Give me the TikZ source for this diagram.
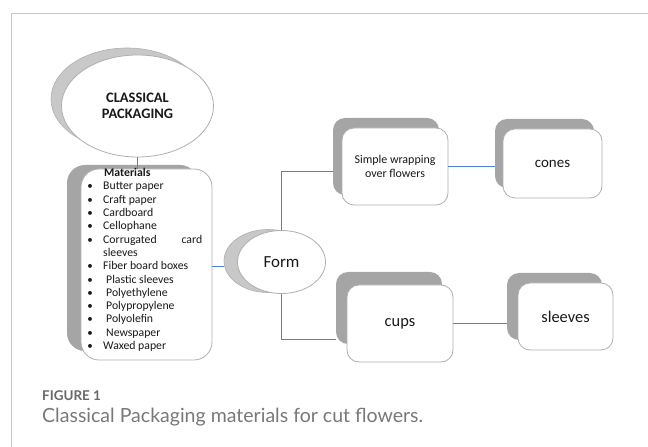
\documentclass[tikz,border=0pt]{standalone}
\usepackage{fontspec}
\setmainfont{Carlito}
\newfontfamily\capfont{Lato}
\usetikzlibrary{shapes.geometric,calc}
\definecolor{linkblue}{RGB}{80,130,220}
\definecolor{shade}{RGB}{165,165,165}
\definecolor{eshade}{RGB}{200,200,200}
\definecolor{edge}{RGB}{175,175,175}
\definecolor{capgray}{RGB}{105,105,105}
\definecolor{caplight}{RGB}{120,120,120}
\definecolor{framegray}{RGB}{200,200,200}
\definecolor{ink}{RGB}{25,25,25}
\tikzset{
  card/.style={draw=edge, fill=white, rounded corners=12bp, line width=0.8bp, inner sep=0pt, align=center, text=ink},
  cardsh/.style={fill=shade, draw=none, rounded corners=12bp, inner sep=0pt},
  oval/.style={ellipse, draw=edge, fill=white, inner sep=0pt, line width=0.8bp, align=center, text=ink},
  ovalsh/.style={ellipse, fill=eshade, draw=edge, line width=0.6bp, inner sep=0pt},
  link/.style={draw=linkblue, line width=1.1bp},
  item/.style={anchor=base west, inner sep=0pt, text=ink, font=\fontsize{11.8}{13}\selectfont},
  bul/.style={anchor=base, inner sep=0pt, text=ink, font=\fontsize{11}{13}\selectfont},
}
\begin{document}
\begin{tikzpicture}[x=1bp,y=-1bp]
\useasboundingbox (0,0) rectangle (648,447);
\draw[framegray, line width=1bp] (11.5,447) -- (11.5,13.5) -- (648,13.5);

% classical packaging ellipse
\node[ovalsh, minimum width=152bp, minimum height=102bp] (cpsh) at (127,99) {};
\node[oval, minimum width=152bp, minimum height=102bp, font=\bfseries\fontsize{14.5}{16.5}\selectfont] (cp) at (137.5,106) {CLASSICAL\\PACKAGING};

% materials box
\node[cardsh, rounded corners=18bp, minimum width=131bp, minimum height=186bp] (matsh) at (132.5,258) {};
\node[card, rounded corners=18bp, minimum width=131bp, minimum height=191bp] (mat) at (146.5,264.5) {};

\node[item, font=\bfseries\fontsize{11.8}{13}\selectfont] (mhead) at (104,177) {Materials};
\foreach \i/\y in {1/190,2/203.3,3/216.6,4/229.9,5/243.2,7/269.8,8/283.1,9/296.4,10/309.7,11/323,12/336.3,13/349.6}
  \node[bul] (b\i) at (90,\y) {•};
\node[item] (m1) at (103,190) {Butter paper};
\node[item] (m2) at (103,203.3) {Craft paper};
\node[item] (m3) at (103,216.6) {Cardboard};
\node[item] (m4) at (103,229.9) {Cellophane};
\node[item] (m5) at (103,243.2) {\makebox[99bp][l]{Corrugated\hfill card}};
\node[item] (m6) at (103,256.5) {sleeves};
\node[item] (m7) at (103,269.8) {Fiber board boxes};
\node[item] (m8) at (106,283.1) {Plastic sleeves};
\node[item] (m9) at (106,296.4) {Polyethylene};
\node[item] (m10) at (106,309.7) {Polypropylene};
\node[item] (m11) at (106,323) {Polyolefin};
\node[item] (m12) at (106,336.3) {Newspaper};
\node[item] (m13) at (103,349.6) {Waxed paper};

% form ellipse
\node[ovalsh, minimum width=88bp, minimum height=63bp] (formsh) at (268,261) {};
\node[oval, minimum width=88bp, minimum height=63bp, font=\fontsize{17}{19}\selectfont] (form) at (281.5,262) {Form};

% boxes
\node[cardsh, minimum width=106bp, minimum height=77bp] (simplesh) at (386,156.5) {};
\node[card, minimum width=106bp, minimum height=77bp, font=\fontsize{12}{14}\selectfont] (simple) at (395,166.5) {Simple wrapping\\over flowers};

\node[cardsh, minimum width=99bp, minimum height=69bp] (conessh) at (544.5,153.5) {};
\node[card, minimum width=99bp, minimum height=69bp, font=\fontsize{15}{17}\selectfont] (cones) at (552.5,163.5) {cones};

\node[cardsh, minimum width=106bp, minimum height=72bp] (cupssh) at (389,308) {};
\node[card, minimum width=106bp, minimum height=77bp, font=\fontsize{16.5}{19}\selectfont] (cups) at (400,323.5) {cups};

\node[cardsh, minimum width=95bp, minimum height=67bp] (sleevessh) at (554.5,306.5) {};
\node[card, minimum width=95bp, minimum height=67bp, font=\fontsize{16.5}{19}\selectfont] (sleeves) at (565.5,316.5) {sleeves};

% caption
\node[anchor=base west, inner sep=0pt, text=capgray, font=\capfont\bfseries\fontsize{13.5}{16}\selectfont] (fig) at (42,400) {FIGURE 1};
\node[anchor=base west, inner sep=0pt, text=caplight, font=\capfont\fontsize{19.6}{22}\selectfont] (cap) at (42,422) {Classical Packaging materials for cut flowers.};

% connectors
\coordinate (simin) at ([yshift=-5bp]simple.west);
\coordinate (cupin) at ([yshift=-16bp]cups.west);
\draw[link] (cp.south) -- (cp.south |- mat.north);
\draw[link] ([yshift=-2bp]mat.east) -- ([yshift=-2bp]mat.east -| formsh.west);
\draw[link] (form.north) |- (simin -| simplesh.west);
\draw[link] (form.south) |- (cupin -| cupssh.west);
\draw[link] (simple.east) -- (simple.east -| conessh.west);
\draw[link] (cups.east) -- (cups.east -| sleevessh.west);
\end{tikzpicture}
\end{document}
